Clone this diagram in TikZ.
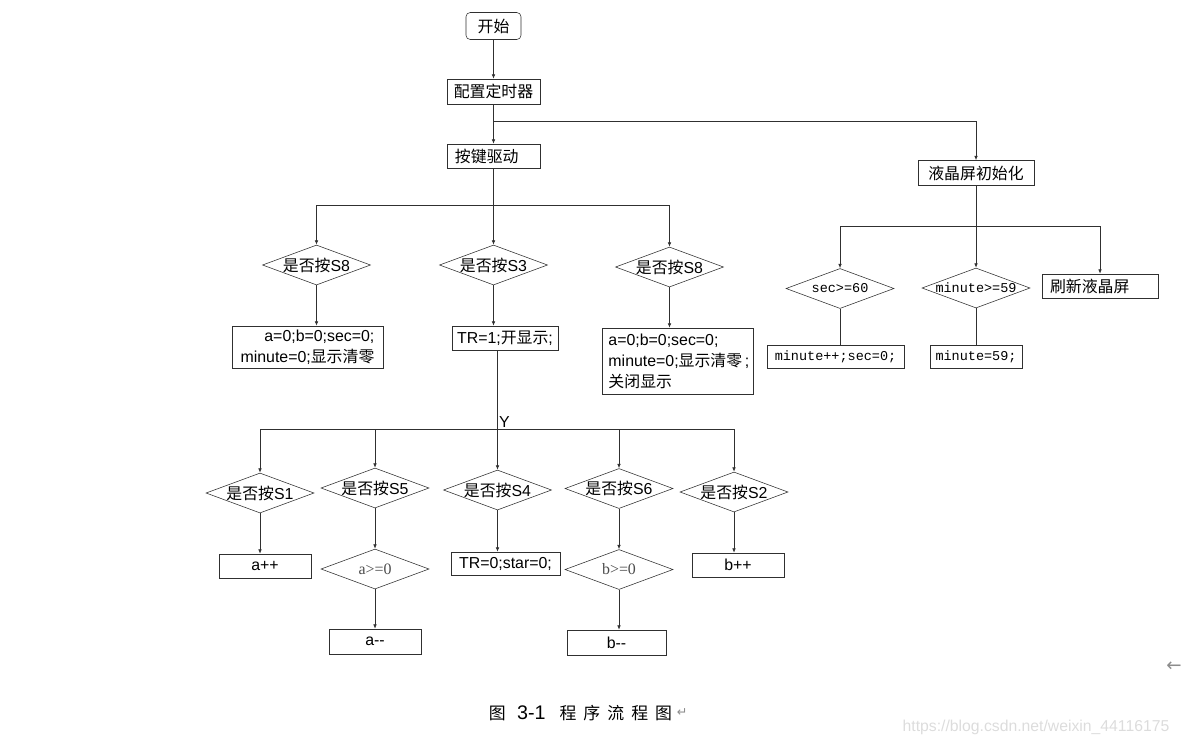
\documentclass[tikz,border=0pt]{standalone}
\usepackage{fontspec}
\setmainfont{Liberation Sans}
\setmonofont{Liberation Mono}
\newfontfamily\cjk{Noto Sans CJK SC}
\newfontfamily\tmsfont{Liberation Serif}
\newfontfamily\symfont{DejaVu Sans}
\usepackage{tikz}
\usetikzlibrary{arrows.meta,positioning,shapes.geometric}
\definecolor{linegray}{HTML}{303030}
\definecolor{markgray}{HTML}{8C8C8C}
\definecolor{stampgray}{HTML}{DCDCDC}
\newcommand\nodefont{\fontsize{11.3}{15}\selectfont}
\newcommand\codefont{\ttfamily\fontsize{9.6}{12}\selectfont}
\newcommand\romfont{\tmsfont\fontsize{11.3}{14}\selectfont}
\newcommand\capgap{\hspace{5pt}}
\tikzset{
  startbox/.style={draw=linegray,rounded corners=3pt,align=center,minimum width=1.375cm,minimum height=.675cm,inner sep=2pt,font=\nodefont},
  procbox/.style={draw=linegray,align=center,minimum height=.6cm,inner sep=2pt,font=\nodefont},
  decision/.style={draw=linegray,diamond,inner sep=-4mm,minimum width=2.7cm,minimum height=1cm,font=\nodefont},
  flow/.style={-{Latex[length=1.1mm,width=.9mm]},draw=linegray,line width=.5pt},
  treeline/.style={draw=linegray,line width=.5pt},
}

\begin{document}
\begin{tikzpicture}[x=0.025cm,y=-0.025cm]
    \useasboundingbox (0,0) rectangle (1181,745);
    \node[startbox] (start) at (493.5,26) {\cjk 开始};
    \node[procbox,minimum width=2.325cm,minimum height=.625cm] (cfg) at (493.5,91.5) {\cjk 配置定时器};
    \node[procbox,text width=1.925cm,inner xsep=.2cm,align=left] (key) at (493.5,156) {\cjk 按键驱动};
    \node[procbox,minimum width=2.9cm,minimum height=.625cm] (lcd) at (976,173) {\cjk 液晶屏初始化};
    \draw[flow] (start) -- (cfg);
    \draw[flow] (cfg) -- (key);
    \coordinate (lcdsplit) at (493.5,121);
    \draw[flow] (lcdsplit) -| (lcd);

    \node[decision] (s8a) at (316.5,265) {{\cjk 是否按}S8};
    \node[decision] (s3) at (493.5,265) {{\cjk 是否按}S3};
    \node[decision] (s8b) at (669.5,267) {{\cjk 是否按}S8};
    \coordinate (keysplit) at (493.5,205);
    \draw[treeline] (key) -- (keysplit);
    \draw[treeline] (s8a |- keysplit) -- (s8b |- keysplit);
    \foreach \d in {s8a,s3,s8b}{\draw[flow] (\d |- keysplit) -- (\d.north);}
    \node[procbox,minimum width=3.775cm,minimum height=1.05cm,align=right] (clr1) at (307.5,347) {a=0;b=0;sec=0;\\minute=0;{\cjk 显示清零}};
    \node[procbox,minimum width=2.65cm] (tr1) at (505,338) {TR=1;{\cjk 开显示};};
    \node[procbox,text width=3.45cm,inner xsep=.16cm,minimum height=1.65cm,align=left] (clr2) at (677.5,361) {a=0;b=0;sec=0;\\minute=0;{\cjk 显示清零}\,;\\{\cjk 关闭显示}};
    \draw[flow] (s8a) -- (s8a |- clr1.north);
    \draw[flow] (s3) -- (s3 |- tr1.north);
    \draw[flow] (s8b) -- (s8b |- clr2.north);

    \coordinate (yjoin) at (497.5,429);
    \draw[treeline] (tr1.south -| yjoin) -- (yjoin);
    \node[anchor=south west,inner sep=1pt,font=\nodefont] (ylab) at (yjoin) {Y};
    \foreach \k/\xx/\yy in {1/260/493,5/375/488,4/497.5/490,6/619/488.5,2/734/492}{
      \node[decision] (s\k) at (\xx,\yy) {{\cjk 是否按}S\k};
      \draw[flow] (s\k |- yjoin) -- (s\k.north);
    }
    \draw[treeline] (s1 |- yjoin) -- (s2 |- yjoin);
    \node[procbox,minimum width=2.3cm] (ainc) at (265,566) {a++};
    \node[decision,font=\romfont,text=black!70] (achk) at (375,569) {a>=0};
    \node[procbox,minimum width=2.3cm,minimum height=.625cm] (adec) at (375,641.5) {a-{}-};
    \node[procbox,minimum width=2.725cm,minimum height=.575cm] (stop) at (505.5,563.5) {TR=0;star=0;};
    \node[decision,font=\romfont,text=black!70] (bchk) at (619,569.5) {b>=0};
    \node[procbox,minimum width=2.475cm,minimum height=.625cm] (bdec) at (616.5,642.5) {b-{}-};
    \node[procbox,minimum width=2.3cm] (binc) at (738,565) {b++};
    \draw[flow] (s1) -- (s1 |- ainc.north);
    \draw[flow] (s5) -- (achk);
    \draw[flow] (achk) -- (adec);
    \draw[flow] (s4) -- (s4 |- stop.north);
    \draw[flow] (s6) -- (bchk);
    \draw[flow] (bchk) -- (bchk |- bdec.north);
    \draw[flow] (s2) -- (s2 |- binc.north);

    \coordinate (lcdjoin) at (976,226);
    \draw[treeline] (lcd) -- (lcdjoin);
    \node[decision,font=\codefont] (secchk) at (840,288.5) {sec>=60};
    \node[decision,font=\codefont] (minchk) at (976,288) {minute>=59};
    \node[procbox,text width=2.5cm,inner xsep=.2cm,align=left] (lcdref) at (1100,286) {\cjk 刷新液晶屏};
    \draw[treeline] (secchk |- lcdjoin) -- (lcdref |- lcdjoin);
    \foreach \d in {secchk,minchk,lcdref}{\draw[flow] (\d |- lcdjoin) -- (\d.north);}
    \node[procbox,minimum width=3.425cm,minimum height=.575cm,font=\codefont] (secclr) at (835.5,356.5) {minute++;sec=0;};
    \node[procbox,minimum width=2.3cm,minimum height=.575cm,font=\codefont] (minset) at (976,356.5) {minute=59;};
    \draw[treeline] (secchk) -- (secchk |- secclr.north);
    \draw[treeline] (minchk) -- (minset);

    \node[inner sep=0pt,font=\cjk\fontsize{12}{14}\selectfont] (cap) at (580.5,713) {图\hspace{8pt}{\fontspec{Liberation Sans}\fontsize{14}{16}\selectfont 3-1}\hspace{10pt}程\capgap 序\capgap 流\capgap 程\capgap 图};
    \node[right=3pt of cap,inner sep=0pt,font=\symfont\fontsize{9}{10}\selectfont,text=markgray] (ret) {↵};
    \node[font=\symfont\fontsize{13}{14}\selectfont,text=markgray] (mark) at (1174,667) {←};
    \node[font=\fontsize{11.2}{12}\selectfont,text=stampgray] (stamp) at (1036,727) {https://blog.csdn.net/weixin\_44116175};
\end{tikzpicture}
\end{document}
